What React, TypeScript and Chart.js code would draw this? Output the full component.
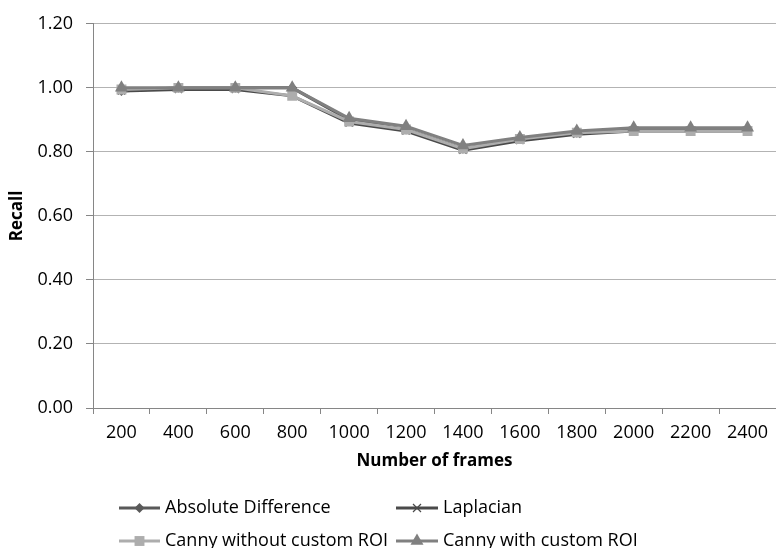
import React, { useEffect, useRef } from "react";
import { Chart, registerables } from "chart.js";

Chart.register(...registerables);

const categories = ["200", "400", "600", "800", "1000", "1200", "1400", "1600", "1800", "2000", "2200", "2400"];
const absoluteDifference = [0.99, 1.0, 1.0, 1.0, 0.9, 0.87, 0.81, 0.84, 0.86, 0.87, 0.87, 0.87];
const laplacian = [0.99, 0.995, 0.995, 0.975, 0.89, 0.865, 0.805, 0.835, 0.855, 0.865, 0.865, 0.865];
const cannyWithout = [0.995, 1.0, 1.0, 0.975, 0.895, 0.87, 0.81, 0.84, 0.86, 0.865, 0.865, 0.865];
const cannyWith = [1.0, 1.0, 1.0, 1.0, 0.905, 0.88, 0.82, 0.845, 0.865, 0.875, 0.875, 0.875];
const yTicks = [0, 0.2, 0.4, 0.6, 0.8, 1.0, 1.2];

const FONT = "'Open Sans', 'DejaVu Sans', sans-serif";

const seriesStyle = [
  { label: "Absolute Difference", data: absoluteDifference, color: "#595959", point: "rectRot", radius: 5, order: 4 },
  { label: "Laplacian", data: laplacian, color: "#4a4a4a", point: "crossRot", radius: 5, order: 3 },
  { label: "Canny without custom ROI", data: cannyWithout, color: "#adadad", point: "rect", radius: 7, order: 2 },
  { label: "Canny with custom ROI", data: cannyWith, color: "#808080", point: "triangle", radius: 7.5, order: 1 },
];

const legendPos = [
  { x1: 119, x2: 160, tx: 165, y: 508 },
  { x1: 396, x2: 438, tx: 443, y: 508 },
  { x1: 119, x2: 160, tx: 165, y: 541 },
  { x1: 396, x2: 438, tx: 443, y: 541 },
];

function drawMarker(ctx: CanvasRenderingContext2D, style: string, r: number, x: number, y: number, color: string) {
  ctx.save();
  ctx.fillStyle = color;
  ctx.strokeStyle = color;
  ctx.beginPath();
  if (style === "rectRot") {
    ctx.moveTo(x, y - r);
    ctx.lineTo(x + r, y);
    ctx.lineTo(x, y + r);
    ctx.lineTo(x - r, y);
    ctx.closePath();
    ctx.fill();
  } else if (style === "crossRot") {
    const d = r * 0.8;
    ctx.lineWidth = 1.2;
    ctx.moveTo(x - d, y - d);
    ctx.lineTo(x + d, y + d);
    ctx.moveTo(x + d, y - d);
    ctx.lineTo(x - d, y + d);
    ctx.stroke();
  } else if (style === "rect") {
    const s = r * Math.SQRT1_2;
    ctx.rect(x - s, y - s, 2 * s, 2 * s);
    ctx.fill();
  } else if (style === "triangle") {
    const h = r * 1.5;
    const w = (r * Math.sqrt(3)) / 2;
    ctx.moveTo(x, y - r);
    ctx.lineTo(x + w, y + h - r);
    ctx.lineTo(x - w, y + h - r);
    ctx.closePath();
    ctx.fill();
  }
  ctx.restore();
}

const legendPlugin = {
  id: "customLegend",
  afterDraw(chart: any) {
    const ctx = chart.ctx;
    ctx.save();
    seriesStyle.forEach((s, i) => {
      const p = legendPos[i];
      ctx.strokeStyle = s.color;
      ctx.lineWidth = 3;
      ctx.beginPath();
      ctx.moveTo(p.x1, p.y);
      ctx.lineTo(p.x2, p.y);
      ctx.stroke();
      drawMarker(ctx, s.point, s.radius, (p.x1 + p.x2) / 2, p.y, s.color);
      ctx.fillStyle = "#000";
      ctx.font = `18px ${FONT}`;
      ctx.textBaseline = "middle";
      ctx.textAlign = "left";
      ctx.fillText(s.label, p.tx, p.y);
    });
    ctx.restore();
  },
};

export default function App() {
  const ref = useRef<HTMLCanvasElement>(null);

  useEffect(() => {
    if (!ref.current) return;
    const chart = new Chart(ref.current, {
      type: "line",
      data: {
        labels: categories,
        datasets: seriesStyle.map((s) => ({
          label: s.label,
          data: s.data,
          borderColor: s.color,
          backgroundColor: s.color,
          borderWidth: 3,
          pointStyle: s.point as any,
          pointRadius: s.radius,
          pointBorderWidth: s.point === "crossRot" ? 1.2 : 0,
          pointBackgroundColor: s.color,
          pointBorderColor: s.color,
          tension: 0,
          order: s.order,
        })),
      },
      options: {
        animation: false,
        responsive: false,
        maintainAspectRatio: false,
        layout: { autoPadding: false, padding: { top: 18, left: 0, right: 0, bottom: 0 } },
        plugins: {
          legend: { display: false },
          tooltip: { enabled: false },
        },
        scales: {
          x: {
            type: "category",
            offset: true,
            afterFit: (scale: any) => {
              scale.height = 140;
              scale.paddingLeft = 0;
              scale.paddingRight = 0;
            },
            grid: {
              display: true,
              offset: true,
              drawOnChartArea: false,
              drawTicks: true,
              tickLength: 6,
              color: "#868686",
            },
            border: { display: true, color: "#868686", width: 1 },
            ticks: {
              color: "#000",
              font: { family: FONT, size: 18 },
              padding: 8,
              maxRotation: 0,
              autoSkip: false,
            },
            title: {
              display: true,
              text: "Number of frames",
              color: "#000",
              font: { family: FONT, size: 17, weight: "bold" },
              padding: { top: 0, bottom: 77 },
            },
          },
          y: {
            min: 0,
            max: 1.2,
            afterFit: (scale: any) => {
              scale.width = 93;
            },
            afterBuildTicks: (scale: any) => {
              scale.ticks = yTicks.map((v) => ({ value: v }));
            },
            grid: {
              display: true,
              drawOnChartArea: true,
              drawTicks: true,
              tickLength: 7,
              color: "#b3b3b3",
              tickColor: "#868686",
            },
            border: { display: true, color: "#868686", width: 1 },
            ticks: {
              color: "#000",
              font: { family: FONT, size: 18 },
              padding: 13,
              callback: (v: any) => Number(v).toFixed(2),
            },
            title: {
              display: true,
              text: "Recall",
              color: "#000",
              font: { family: FONT, size: 17, weight: "bold" },
              padding: { top: 7, bottom: 0 },
            },
          },
        },
      },
      plugins: [legendPlugin],
    });
    return () => chart.destroy();
  }, []);

  return (
    <div style={{ position: "fixed", left: 0, top: 0, width: 776, height: 548, background: "#fff" }}>
      <canvas ref={ref} width={776} height={548} style={{ width: 776, height: 548 }} />
    </div>
  );
}
